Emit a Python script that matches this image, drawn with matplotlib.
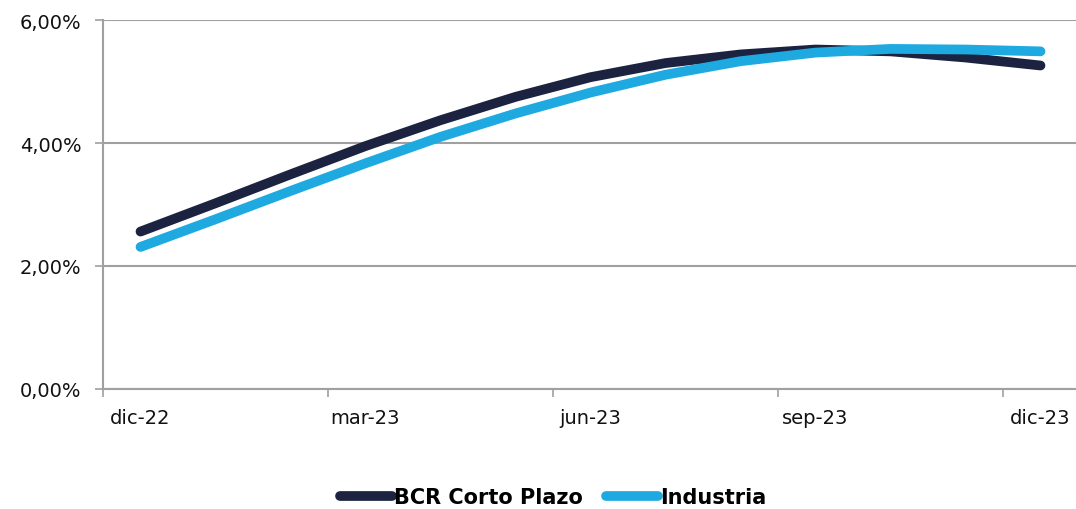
import matplotlib
matplotlib.use("Agg")
import matplotlib.pyplot as plt
from matplotlib.ticker import FixedLocator, FuncFormatter

months = ["dic-22", "ene-23", "feb-23", "mar-23", "abr-23", "may-23", "jun-23",
          "jul-23", "ago-23", "sep-23", "oct-23", "nov-23", "dic-23"]
bcr = [2.56, 3.02, 3.49, 3.95, 4.37, 4.75, 5.07, 5.30, 5.44, 5.52, 5.49, 5.39, 5.26]
industria = [2.31, 2.76, 3.22, 3.67, 4.10, 4.48, 4.82, 5.11, 5.33, 5.47, 5.53, 5.52, 5.49]
yticks = [0, 2, 4, 6]

navy = "#1c2340"
blue = "#1eaae1"
grid = "#a0a0a0"

plt.rcParams['font.family'] = ['DejaVu Sans']

fig = plt.figure(figsize=(10.76, 5.10), dpi=100)
ax = fig.add_axes([103/1076, 1-390/510, 975/1076, (390-21)/510])

x = list(range(len(months)))
ax.plot(x, bcr, color=navy, lw=7, solid_capstyle='round', solid_joinstyle='round',
        label="BCR Corto Plazo", zorder=3)
ax.plot(x, industria, color=blue, lw=7, solid_capstyle='round', solid_joinstyle='round',
        label="Industria", zorder=4)

ax.set_xlim(-0.5, len(months) - 0.5)
ax.set_ylim(0, 6)
ax.set_yticks(yticks)
ax.yaxis.set_major_formatter(FuncFormatter(lambda v, p: f"{v:.2f}%".replace(".", ",")))
ax.yaxis.grid(True, color=grid, lw=1.5)
ax.set_axisbelow(True)

ax.xaxis.set_major_locator(FixedLocator([-0.5 + 3*i for i in range(5)]))
ax.xaxis.set_major_formatter(FuncFormatter(lambda v, p: ""))
ax.xaxis.set_minor_locator(FixedLocator([0, 3, 6, 9, 12]))
ax.xaxis.set_minor_formatter(FuncFormatter(lambda v, p: months[int(round(v))]))
ax.tick_params(axis='x', which='major', length=5.5, width=1.2, color=grid, direction='out')
ax.tick_params(axis='x', which='minor', length=0, pad=14, labelsize=14, labelcolor='#111111')
ax.tick_params(axis='y', length=5.5, width=1.2, color=grid, labelsize=14, pad=10,
               labelcolor='#111111')

for s in ['top', 'right']:
    ax.spines[s].set_visible(False)
for s in ['left', 'bottom']:
    ax.spines[s].set_color(grid)
    ax.spines[s].set_linewidth(1.5)

leg = fig.legend(loc='center', bbox_to_anchor=(553/1076, 1-498/510), ncol=2,
                 frameon=False, handlelength=2.5, handletextpad=0.1, columnspacing=1.1,
                 prop={'weight': 'bold', 'size': 15})

fig.savefig("out.png", dpi=100)
